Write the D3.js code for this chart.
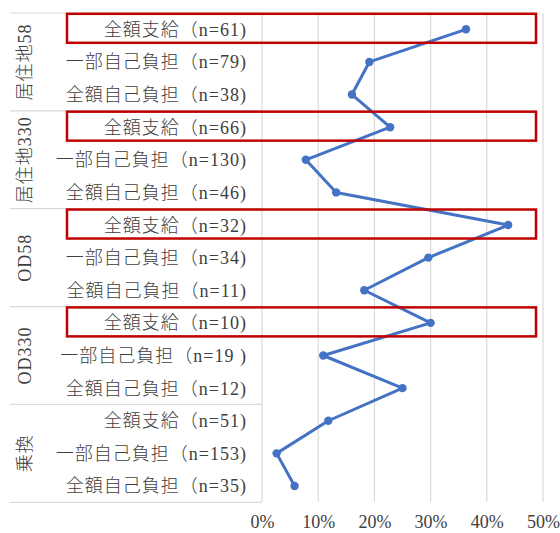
<!DOCTYPE html>
<html><head><meta charset="utf-8">
<script src="https://cdn.jsdelivr.net/npm/d3@7"></script>
<style>
html,body{margin:0;padding:0;background:#fff;}
svg{display:block;}
</style></head>
<body>
<svg id="chart" width="560" height="533"></svg>
<script>
const groups = ["居住地58", "居住地330", "OD58", "OD330", "乗換"];
const categories = [
  "全額支給（n=61)", "一部自己負担（n=79)", "全額自己負担（n=38)",
  "全額支給（n=66)", "一部自己負担（n=130)", "全額自己負担（n=46)",
  "全額支給（n=32)", "一部自己負担（n=34)", "全額自己負担（n=11)",
  "全額支給（n=10)", "一部自己負担（n=19 )", "全額自己負担（n=12)",
  "全額支給（n=51)", "一部自己負担（n=153)", "全額自己負担（n=35)"
];
const values = [36.3, 19.1, 16.0, 22.8, 7.8, 13.2, 43.8, 29.6, 18.2, 30.0, 10.9, 25.0, 11.8, 2.6, 5.8];
const tickValues = [0, 10, 20, 30, 40, 50];
const highlighted = [0, 3, 6, 9];

const svg = d3.select("#chart");
const ids = categories.map((c, i) => i);
const y = d3.scaleBand().domain(ids).range([13, 502.3]).paddingInner(0).paddingOuter(0);
const x = d3.scaleLinear().domain([0, 50]).range([262, 543]);
const grey = "#d9d9d9";
const txt = "#404040";
const latStyle = "font-family:'Liberation Serif',serif;font-size:18px";
const mixStyle = "font-family:'Liberation Serif','Noto Sans CJK JP',serif;font-size:18px;font-weight:300;letter-spacing:1px";

// gridlines
svg.append("g").selectAll("line").data(tickValues).join("line")
  .attr("x1", d => x(d)).attr("x2", d => x(d))
  .attr("y1", 13).attr("y2", 502)
  .attr("stroke", grey).attr("stroke-width", 1.2);

// group separators
const seps = [0, 3, 6, 9, 12, 15];
svg.append("g").selectAll("line").data(seps).join("line")
  .attr("x1", 10).attr("x2", x(0))
  .attr("y1", d => d === 15 ? y(14) + y.bandwidth() : y(d))
  .attr("y2", d => d === 15 ? y(14) + y.bandwidth() : y(d))
  .attr("stroke", grey).attr("stroke-width", 1.2);

// x axis tick labels
const xAxis = d3.axisBottom(x).tickValues(tickValues).tickSize(0).tickFormat(d => d + "%");
const gx = svg.append("g").attr("transform", "translate(0,512)").call(xAxis);
gx.attr("font-family", null).attr("font-size", null);
gx.select(".domain").remove();
gx.selectAll("text").attr("style", latStyle).attr("fill", txt);

// category labels
svg.append("g").selectAll("text").data(categories).join("text")
  .attr("style", mixStyle)
  .attr("x", 247).attr("y", (d, i) => y(i) + y.bandwidth() / 2)
  .attr("dy", "0.36em").attr("text-anchor", "end")
  .attr("fill", txt).text(d => d);

// group labels
svg.append("g").selectAll("text").data(groups).join("text")
  .attr("style", mixStyle)
  .attr("transform", (d, i) => {
    const cy = (y(i * 3) + y(i * 3 + 2) + y.bandwidth()) / 2;
    return `translate(25,${cy}) rotate(-90)`;
  })
  .attr("dy", "0.36em").attr("text-anchor", "middle")
  .attr("fill", txt).text(d => d);

// line
const line = d3.line().x(d => x(d)).y((d, i) => y(i) + y.bandwidth() / 2);
svg.append("path").datum(values)
  .attr("d", line).attr("fill", "none")
  .attr("stroke", "#4472C4").attr("stroke-width", 3).attr("stroke-linejoin", "round");
svg.append("g").selectAll("circle").data(values).join("circle")
  .attr("cx", d => x(d)).attr("cy", (d, i) => y(i) + y.bandwidth() / 2)
  .attr("r", 4.2).attr("fill", "#4472C4");

// red highlight boxes
svg.append("g").selectAll("rect").data(highlighted).join("rect")
  .attr("x", 67).attr("y", d => y(d) + 0.8)
  .attr("width", 469).attr("height", 29)
  .attr("fill", "none").attr("stroke", "#c00000").attr("stroke-width", 2.5);
</script>
</body></html>
